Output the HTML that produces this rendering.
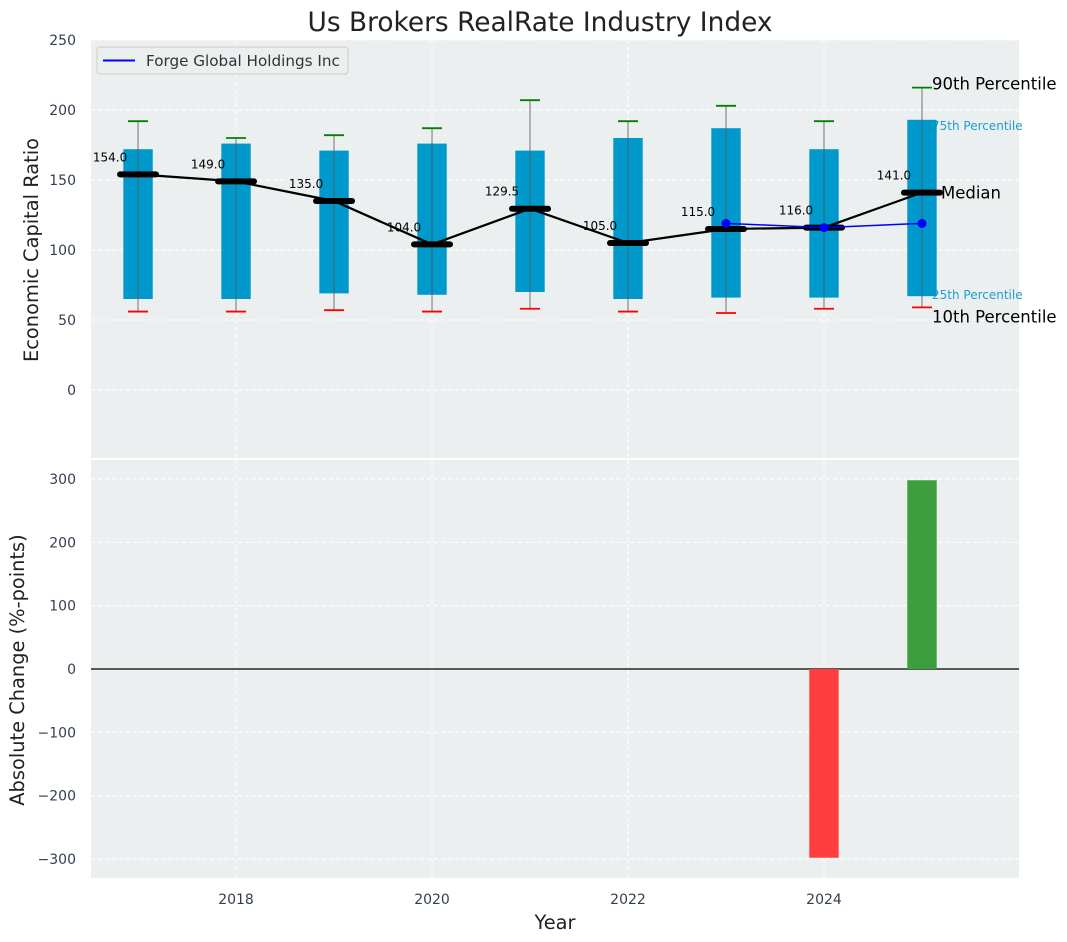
<!DOCTYPE html>
<html><head><meta charset="utf-8"><style>
body{margin:0;background:#fff;}
svg{display:block;font-family:"DejaVu Sans","Liberation Sans",sans-serif;}
</style></head><body>
<svg id="chart" width="1067" height="942" viewBox="0 0 1067 942"></svg>
<script>
const years=[2017,2018,2019,2020,2021,2022,2023,2024,2025];
const p10=[56,56,57,56,58,56,55,58,59];
const p25=[65,65,69,68,70,65,66,66,67];
const med=[154,149,135,104,129.5,105,115,116,141];
const p75=[172,176,171,176,171,180,187,172,193];
const p90=[192,180,182,187,207,192,203,192,216];
const compYears=[2023,2024,2025];
const compVals=[119,116,119];
const chgYears=[2024,2025];
const chgVals=[-298,298];
const topTicks=[0,50,100,150,200,250];
const botTicks=[-300,-200,-100,0,100,200,300];
const xTicks=[2018,2020,2022,2024];

const L=91,R=1019,T1=40,B1=459,T2=459,B2=878;
const X=v=>L+(v-2016.52)*(R-L)/(2025.99-2016.52);
const Y1=v=>T1+(250-v)*(B1-T1)/(250-(-49.3));
const Y2=v=>T2+(331.6-v)*(B2-T2)/(331.6-(-330));
const svg=document.getElementById('chart');
const NS='http://www.w3.org/2000/svg';
function mk(tag,attrs,parent){const e=document.createElementNS(NS,tag);for(const k in attrs)e.setAttribute(k,attrs[k]);(parent||svg).appendChild(e);return e;}
function txt(s,attrs){const e=mk('text',attrs);e.textContent=s;return e;}

let e=mk('rect',{x:L,y:T1,width:R-L,height:B1-T1,fill:'#ebeff0'});

e=mk('rect',{x:L,y:T2,width:R-L,height:B2-T2,fill:'#ebeff0'});

mk('line',{x1:L,x2:R,y1:459,y2:459,stroke:'#fff','stroke-width':2});

xTicks.forEach(t=>{
 mk('line',{x1:X(t),x2:X(t),y1:T1,y2:B1-1,stroke:'#fff','stroke-dasharray':'4,3','stroke-width':1});
 mk('line',{x1:X(t),x2:X(t),y1:T2+1,y2:B2,stroke:'#fff','stroke-dasharray':'4,3','stroke-width':1});
 e=txt(t,{x:X(t),y:904,'text-anchor':'middle','font-size':14,fill:'#333f50'});
 
});
topTicks.forEach(t=>{
 mk('line',{x1:L,x2:R,y1:Y1(t),y2:Y1(t),stroke:'#fff','stroke-dasharray':'4,3'});
 e=txt(t,{x:76,y:Y1(t)+5,'text-anchor':'end','font-size':14,fill:'#333f50'});
 
});
botTicks.forEach(t=>{
 mk('line',{x1:L,x2:R,y1:Y2(t),y2:Y2(t),stroke:'#fff','stroke-dasharray':'4,3'});
 e=txt(t<0?'\u2212'+(-t):t,{x:76,y:Y2(t)+5,'text-anchor':'end','font-size':14,fill:'#333f50'});
 
});

const lx=X(2025)+10;
txt('90th Percentile',{x:lx,y:Y1(p90[8])+2,'font-size':16.5,fill:'#000'});
txt('10th Percentile',{x:lx,y:Y1(p10[8])+15,'font-size':16.5,fill:'#000'});
txt('75th Percentile',{x:lx,y:Y1(p75[8])+10,'font-size':12,fill:'#1a9fd0'});
txt('25th Percentile',{x:lx,y:Y1(p25[8])+3,'font-size':12,fill:'#1a9fd0'});

const bw=X(2017.15)-X(2017);
years.forEach((y,i)=>{
 const cx=X(y);
 e=mk('rect',{x:cx-bw,y:Y1(p75[i]),width:2*bw,height:Y1(p25[i])-Y1(p75[i]),fill:'#0099cc'});
 
 mk('line',{x1:cx,x2:cx,y1:Y1(p90[i]),y2:Y1(p10[i]),stroke:'#555','stroke-width':1,opacity:0.8});
 e=mk('line',{x1:cx-10,x2:cx+10,y1:Y1(p90[i]),y2:Y1(p90[i]),stroke:'green','stroke-width':1.8});
 
 e=mk('line',{x1:cx-10,x2:cx+10,y1:Y1(p10[i]),y2:Y1(p10[i]),stroke:'red','stroke-width':1.8});
 
});
e=mk('polyline',{points:years.map((y,i)=>X(y)+','+Y1(med[i])).join(' '),fill:'none',stroke:'#000','stroke-width':2.2});

years.forEach((y,i)=>{
 const cx=X(y);
 e=mk('line',{x1:cx-18,x2:cx+18,y1:Y1(med[i]),y2:Y1(med[i]),stroke:'#000','stroke-width':6,'stroke-linecap':'round'});
 
 e=txt(med[i].toFixed(1),{x:cx-28,y:Y1(med[i])-13,'text-anchor':'middle','font-size':12,fill:'#000'});
 
});
txt('Median',{x:X(2025)+19,y:Y1(med[8])+6,'font-size':16.5,fill:'#000'});
e=mk('polyline',{points:compYears.map((y,i)=>X(y)+','+Y1(compVals[i])).join(' '),fill:'none',stroke:'blue','stroke-width':1.5});

compYears.forEach((y,i)=>{
 e=mk('circle',{cx:X(y),cy:Y1(compVals[i]),r:4.5,fill:'blue'});
 
});

mk('line',{x1:L,x2:R,y1:Y2(0),y2:Y2(0),stroke:'#000','stroke-width':1.2});
chgYears.forEach((y,i)=>{
 const v=chgVals[i];
 e=mk('rect',{x:X(y)-bw,y:Math.min(Y2(0),Y2(v)),width:2*bw,height:Math.abs(Y2(v)-Y2(0)),fill:v<0?'#ff3f3f':'#3c9e3c'});
 
});

const lg=mk('g',{});

mk('rect',{x:97,y:47,width:251,height:27,rx:3,fill:'#ebeff0',stroke:'#ccc'},lg);
mk('line',{x1:103,x2:135,y1:60.5,y2:60.5,stroke:'blue','stroke-width':2},lg);
e=mk('text',{x:146,y:66,'font-size':15.2,fill:'#333'},lg);e.textContent='Forge Global Holdings Inc';

e=txt('Us Brokers RealRate Industry Index',{x:540,y:31,'text-anchor':'middle','font-size':26.4,fill:'#222'});

e=txt('Economic Capital Ratio',{x:38,y:250,'text-anchor':'middle','font-size':19.4,fill:'#222',transform:'rotate(-90 38 250)'});

e=txt('Absolute Change (%-points)',{x:24,y:670,'text-anchor':'middle','font-size':19.4,fill:'#222',transform:'rotate(-90 24 670)'});

e=txt('Year',{x:555,y:929,'text-anchor':'middle','font-size':19.4,fill:'#222'});

</script>
</body></html>
